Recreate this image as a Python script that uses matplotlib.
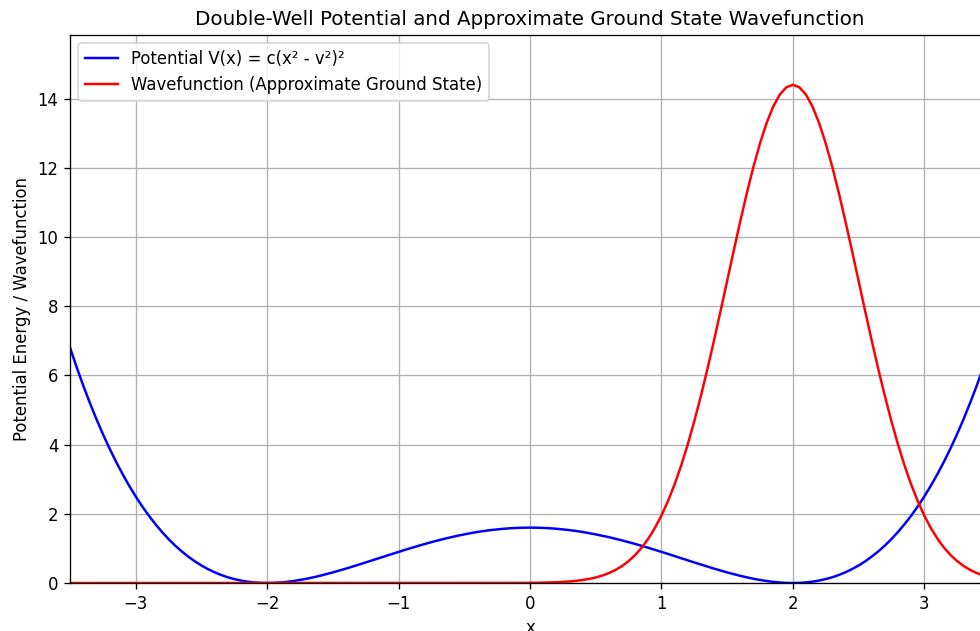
import matplotlib
matplotlib.use('Agg')
import matplotlib.pyplot as plt

# x positions (step 0.05 from -3.5 to 3.5)
x = [-3.50, -3.45, -3.40, -3.35, -3.30, -3.25, -3.20, -3.15, -3.10, -3.05,
     -3.00, -2.95, -2.90, -2.85, -2.80, -2.75, -2.70, -2.65, -2.60, -2.55,
     -2.50, -2.45, -2.40, -2.35, -2.30, -2.25, -2.20, -2.15, -2.10, -2.05,
     -2.00, -1.95, -1.90, -1.85, -1.80, -1.75, -1.70, -1.65, -1.60, -1.55,
     -1.50, -1.45, -1.40, -1.35, -1.30, -1.25, -1.20, -1.15, -1.10, -1.05,
     -1.00, -0.95, -0.90, -0.85, -0.80, -0.75, -0.70, -0.65, -0.60, -0.55,
     -0.50, -0.45, -0.40, -0.35, -0.30, -0.25, -0.20, -0.15, -0.10, -0.05,
     0.00, 0.05, 0.10, 0.15, 0.20, 0.25, 0.30, 0.35, 0.40, 0.45,
     0.50, 0.55, 0.60, 0.65, 0.70, 0.75, 0.80, 0.85, 0.90, 0.95,
     1.00, 1.05, 1.10, 1.15, 1.20, 1.25, 1.30, 1.35, 1.40, 1.45,
     1.50, 1.55, 1.60, 1.65, 1.70, 1.75, 1.80, 1.85, 1.90, 1.95,
     2.00, 2.05, 2.10, 2.15, 2.20, 2.25, 2.30, 2.35, 2.40, 2.45,
     2.50, 2.55, 2.60, 2.65, 2.70, 2.75, 2.80, 2.85, 2.90, 2.95,
     3.00, 3.05, 3.10, 3.15, 3.20, 3.25, 3.30, 3.35, 3.40, 3.45, 3.50]

# potential
potential = [6.806, 6.245, 5.715, 5.217, 4.747, 4.307, 3.894, 3.508, 3.147, 2.812,
             2.500, 2.211, 1.945, 1.700, 1.475, 1.269, 1.082, 0.914, 0.762, 0.626,
             0.506, 0.401, 0.310, 0.232, 0.166, 0.113, 0.071, 0.039, 0.017, 0.004,
             0.000, 0.004, 0.015, 0.033, 0.058, 0.088, 0.123, 0.163, 0.207, 0.255,
             0.306, 0.360, 0.416, 0.474, 0.534, 0.594, 0.655, 0.717, 0.778, 0.840,
             0.900, 0.959, 1.018, 1.074, 1.129, 1.182, 1.232, 1.280, 1.325, 1.367,
             1.406, 1.442, 1.475, 1.504, 1.529, 1.550, 1.568, 1.582, 1.592, 1.598,
             1.600, 1.598, 1.592, 1.582, 1.568, 1.550, 1.529, 1.504, 1.475, 1.442,
             1.406, 1.367, 1.325, 1.280, 1.232, 1.182, 1.129, 1.074, 1.018, 0.959,
             0.900, 0.840, 0.778, 0.717, 0.655, 0.594, 0.534, 0.474, 0.416, 0.360,
             0.306, 0.255, 0.207, 0.163, 0.123, 0.088, 0.058, 0.033, 0.015, 0.004,
             0.000, 0.004, 0.017, 0.039, 0.071, 0.113, 0.166, 0.232, 0.310, 0.401,
             0.506, 0.626, 0.762, 0.914, 1.082, 1.269, 1.475, 1.700, 1.945, 2.211,
             2.500, 2.812, 3.147, 3.508, 3.894, 4.307, 4.747, 5.217, 5.715, 6.245, 6.806]

# wavefunction
wavefunction = [0.0, 0.0, 0.0, 0.0, 0.0, 0.0, 0.0, 0.0, 0.0, 0.0,
                0.0, 0.0, 0.0, 0.0, 0.0, 0.0, 0.0, 0.0, 0.0, 0.0,
                0.0, 0.0, 0.0, 0.0, 0.0, 0.0, 0.0, 0.0, 0.0, 0.0,
                0.0, 0.0, 0.0, 0.0, 0.0, 0.0, 0.0, 0.0, 0.0, 0.0,
                0.0, 0.0, 0.0, 0.0, 0.0, 0.0, 0.0, 0.0, 0.0, 0.0,
                0.0, 0.0, 0.0, 0.0, 0.0, 0.0, 0.0, 0.0, 0.0, 0.0,
                0.0, 0.0, 0.0, 0.0, 0.0, 0.0, 0.001, 0.001, 0.002, 0.003,
                0.005, 0.007, 0.011, 0.015, 0.022, 0.032, 0.044, 0.062, 0.086, 0.118,
                0.160, 0.215, 0.286, 0.376, 0.490, 0.633, 0.808, 1.022, 1.280, 1.588,
                1.949, 2.368, 2.850, 3.395, 4.003, 4.675, 5.404, 6.186, 7.010, 7.863,
                8.734, 9.605, 10.456, 11.271, 12.028, 12.708, 13.293, 13.766, 14.115, 14.328,
                14.400, 14.328, 14.115, 13.766, 13.293, 12.708, 12.028, 11.271, 10.456, 9.605,
                8.734, 7.863, 7.010, 6.186, 5.404, 4.675, 4.003, 3.395, 2.850, 2.368,
                1.949, 1.588, 1.280, 1.022, 0.808, 0.633, 0.490, 0.376, 0.286, 0.215, 0.160]

DPI = 119
fig = plt.figure(figsize=(981 / DPI, 631 / DPI), dpi=DPI)
ax = fig.add_axes([70 / 981, 48 / 631, 920 / 981, 548 / 631])

ax.plot(x, potential, 'b-', label='Potential V(x) = c(x² - v²)²')
ax.plot(x, wavefunction, 'r-', label='Wavefunction (Approximate Ground State)')

ax.set_title('Double-Well Potential and Approximate Ground State Wavefunction')
ax.set_xlabel('x')
ax.set_ylabel('Potential Energy / Wavefunction')
ax.set_xlim(-3.5, 3.5)
ax.set_ylim(0, 15.84)
ax.grid(True)
ax.legend(loc='upper left')

fig.savefig('out.png', dpi=DPI)
